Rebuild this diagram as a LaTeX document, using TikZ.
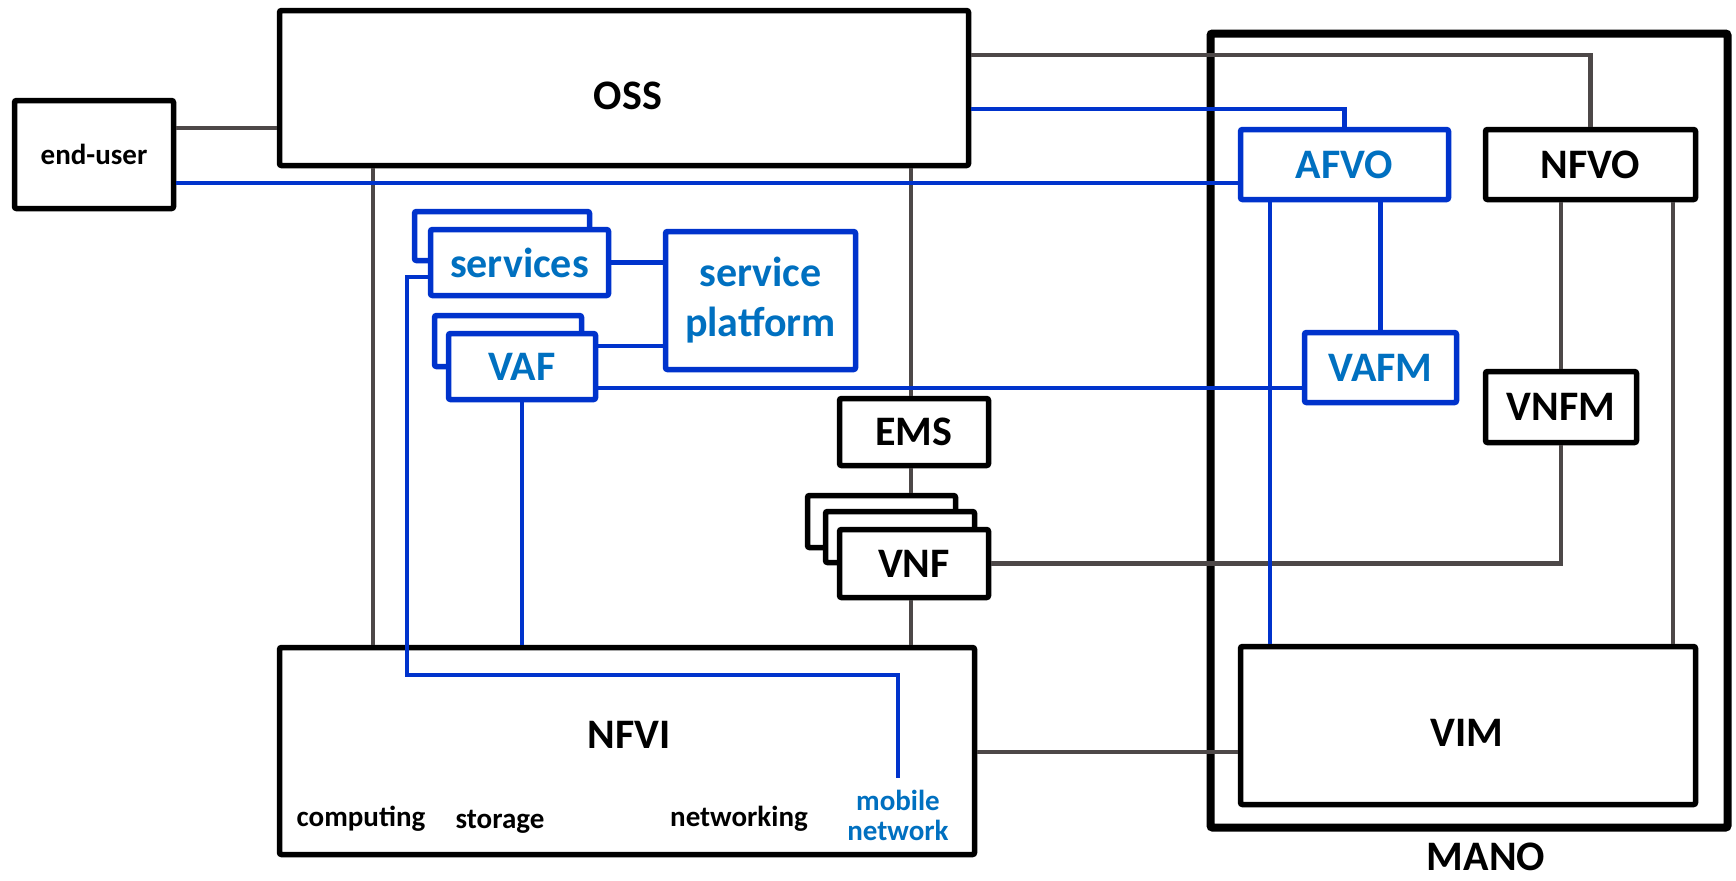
\documentclass[tikz,border=0pt]{standalone}
\usepackage{fontspec}
\setmainfont{Carlito}
\definecolor{lnblue}{RGB}{0,51,204}
\definecolor{txblue}{RGB}{0,112,192}
\definecolor{lngray}{RGB}{77,72,72}
\begin{document}
\begin{tikzpicture}[x=0.5pt,y=-0.5pt,
  box/.style={draw=black, line width=2.75pt, fill=white, inner sep=0pt, rounded corners=1pt,
              font=\bfseries\fontsize{21}{25}\selectfont, align=center},
  bbox/.style={box, draw=lnblue, text=txblue},
  lbl/.style={inner sep=0pt, font=\bfseries\fontsize{21}{25}\selectfont},
  small/.style={inner sep=0pt, font=\bfseries\fontsize{14.5}{15}\selectfont, align=center},
  gl/.style={draw=lngray, line width=2.25pt},
  bl/.style={draw=lnblue, line width=2.25pt},
]
\useasboundingbox (0,0) rectangle (1736,880);

% MANO frame
\node[draw=black, line width=4pt, inner sep=0pt, rounded corners=1pt,
      minimum width=258.5pt, minimum height=397pt] (mano) at (1469,430.5) {};
\node[lbl] (manolbl) at (1486,857) {MANO};

% left side boxes
\node[box, minimum width=344.5pt, minimum height=77.5pt] (oss) at (624,88) {};
\node[lbl] (osslbl) at (628,96) {OSS};
\node[box, minimum width=79.5pt, minimum height=54pt,
      font=\bfseries\fontsize{14.5}{15}\selectfont] (eu) at (94,154.5) {end-user};

\node[bbox, minimum width=87.5pt, minimum height=24.5pt] (servb) at (502,236) {};
\node[bbox, minimum width=89pt, minimum height=33pt] (serv) at (519.5,262.5) {services};
\node[bbox, minimum width=73.5pt, minimum height=25.5pt] (vafb) at (508,341) {};
\node[bbox, minimum width=73.5pt, minimum height=33pt] (vaf) at (522,366.5) {VAF};
\node[bbox, minimum width=95pt, minimum height=69pt] (sp) at (760.5,300.5) {service\\platform};

\node[box, minimum width=74.5pt, minimum height=33.5pt] (ems) at (914,432) {EMS};
\node[box, minimum width=74pt, minimum height=26pt] (vnfc) at (881.5,521.5) {};
\node[box, minimum width=74.5pt, minimum height=25.5pt] (vnfb) at (900,537) {};
\node[box, minimum width=74.5pt, minimum height=34pt] (vnf) at (914,563.5) {VNF};

\node[box, minimum width=347.5pt, minimum height=103.5pt] (nfvi) at (627,751) {};
\node[lbl] (nfvilbl) at (629,735) {NFVI};
\node[small, anchor=base] (comp) at (361,826) {computing};
\node[small, anchor=base] (stor) at (500,828) {storage};
\node[small, anchor=base] (netw) at (739,826) {networking};
\node[small, text=txblue] (mobn) at (898,815) {mobile\\network};

% MANO contents
\node[bbox, minimum width=104pt, minimum height=35pt] (afvo) at (1344.5,164.5) {AFVO};
\node[box, minimum width=105pt, minimum height=35pt] (nfvo) at (1590.5,164.5) {NFVO};
\node[bbox, minimum width=76pt, minimum height=35pt] (vafm) at (1380.5,367.5) {VAFM};
\node[box, minimum width=75.5pt, minimum height=35.5pt] (vnfm) at (1561,407) {VNFM};
\node[box, minimum width=227.5pt, minimum height=79pt] (vim) at (1468,725.5) {};
\node[lbl] (vimlbl) at (1467,733) {VIM};

% routing coordinates
\coordinate (r1) at (1590,55);
\coordinate (r2) at (1345,109);
\coordinate (r3) at (0,183);
\coordinate (r4) at (0,128);
\coordinate (r5) at (373,0);
\coordinate (r7) at (1673,0);
\coordinate (r8) at (0,752);
\coordinate (r9) at (1270,0);
\coordinate (r10) at (0,388);
\coordinate (r11) at (0,346);
\coordinate (r12) at (407,277);
\coordinate (r13) at (0,675);
\coordinate (mnend) at (898,778);
\coordinate (r14) at (911,0);

% grey connectors
\draw[gl] (eu.east |- r4) -- (oss.west |- r4);
\draw[gl] (oss.east |- r1) -| (nfvo.north);
\draw[gl] (oss.south -| r5) -- (nfvi.north -| r5);
\draw[gl] (oss.south -| r14) -- (ems.north -| r14);
\draw[gl] (ems.south -| r14) -- (vnfc.north -| r14);
\draw[gl] (vnf.south -| r14) -- (nfvi.north -| r14);
\draw[gl] (vnf.east) -| (vnfm.south);
\draw[gl] (nfvo.south -| vnfm.north) -- (vnfm.north);
\draw[gl] (nfvo.south -| r7) -- (vim.north -| r7);
\draw[gl] (nfvi.east |- r8) -- (vim.west |- r8);

% blue connectors
\draw[bl] (oss.east |- r2) -| (afvo.north);
\draw[bl] (eu.east |- r3) -- (afvo.west |- r3);
\draw[bl] (afvo.south -| r9) -- (vim.north -| r9);
\draw[bl] (afvo.south -| vafm.north) -- (vafm.north);
\draw[bl] (vaf.east |- r10) -- (vafm.west |- r10);
\draw[bl] (vaf.east |- r11) -- (sp.west |- r11);
\draw[bl] (serv.east) -- (sp.west |- serv.east);
\draw[bl] (vaf.south) -- (nfvi.north -| vaf.south);
\draw[bl] (serv.west |- r12) -- (r12) -- (r12 |- r13) -- (mnend |- r13) -- (mnend);
\end{tikzpicture}
\end{document}
